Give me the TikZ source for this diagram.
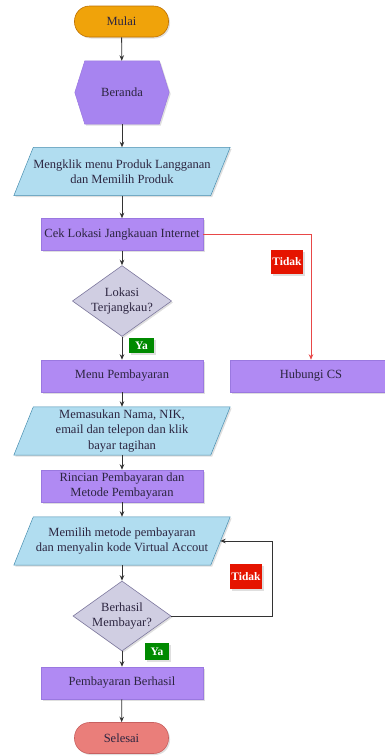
\documentclass[tikz,border=0pt]{standalone}
\usepackage{fontspec}
\setmainfont{Liberation Serif}
\usetikzlibrary{shapes.geometric,arrows.meta,shadows,backgrounds}
\definecolor{orF}{HTML}{F0A30A}
\definecolor{orD}{HTML}{BD7000}
\definecolor{puF}{HTML}{B08AF3}
\definecolor{puD}{HTML}{9A78E0}
\definecolor{hxF}{HTML}{A784F0}
\definecolor{blF}{HTML}{B1DDF0}
\definecolor{blD}{HTML}{4A8FB0}
\definecolor{diF}{HTML}{D0CEE2}
\definecolor{diD}{HTML}{7D789E}
\definecolor{reF}{HTML}{EA7E7A}
\definecolor{reD}{HTML}{C86060}
\definecolor{txt}{HTML}{2C2540}
\definecolor{lnc}{HTML}{333333}
\definecolor{tidakc}{HTML}{E51400}
\definecolor{yac}{HTML}{008A00}
\definecolor{redln}{HTML}{E84848}
\begin{document}
\begin{tikzpicture}[x=1pt,y=-1pt,
  shad/.style={drop shadow={opacity=0.25,shadow xshift=1.5pt,shadow yshift=-1.5pt}},
  base/.style={font=\fontsize{12.5}{15.5}\selectfont, text=txt, align=center, inner sep=0pt},
  term/.style={base, rectangle, rounded corners=15pt, minimum width=94pt, minimum height=31pt, shad, line width=0.6pt},
  procbox/.style={base, rectangle, fill=puF, draw=puD, line width=0.5pt, minimum width=162pt, minimum height=32pt, shad},
  iobox/.style={base, rectangle, minimum width=216pt, minimum height=48pt},
  iopath/.style={fill=blF, draw=blD, line width=0.5pt, shad},
  decbox/.style={base, diamond, aspect=1.4, fill=diF, draw=diD, line width=0.6pt, minimum width=98pt, minimum height=70pt, shad},
  arr/.style={draw=lnc, line width=0.8pt, -{Stealth[length=5.5pt,width=4.5pt]}},
  redarr/.style={draw=redln, line width=0.7pt, -{Stealth[length=5.5pt,width=4.5pt]}},
  lab/.style={font=\fontsize{11.5}{13}\selectfont\bfseries, text=white, inner sep=0pt, shad}
]
\useasboundingbox (0,0) rectangle (385,756);
\clip (0,0) rectangle (385,756);

\node[term, fill=orF, draw=orD] (start) at (121.5,21.5) {Mulai};
\node[base, minimum width=94pt, minimum height=63pt] (ber) at (122,92.5) {Beranda};
\node[iobox] (p1) at (122,171.5) {Mengklik menu Produk Langganan\\dan Memilih Produk};
\node[procbox] (cek) at (122,234.5) {Cek Lokasi Jangkauan Internet};
\node[decbox] (lok) at (122,301) {Lokasi\\Terjangkau?};
\node[procbox] (menu) at (122,376) {Menu Pembayaran};
\node[procbox] (hub) at (311,376) {Hubungi CS};
\node[iobox] (p2) at (122,431) {Memasukan Nama, NIK,\\email dan telepon dan klik\\bayar tagihan};
\node[procbox] (rinc) at (122,486) {Rincian Pembayaran dan\\Metode Pembayaran};
\node[iobox] (p3) at (122,541) {Memilih metode pembayaran\\dan menyalin kode Virtual Accout};
\node[decbox] (ber2) at (122,616) {Berhasil\\Membayar?};
\node[procbox] (suk) at (122,683) {Pembayaran Berhasil};
\node[term, fill=reF, draw=reD] (sel) at (121.5,738) {Selesai};

\begin{scope}[on background layer]
  \draw[fill=hxF, draw=puD, line width=0.5pt, shad]
    ([xshift=10pt]ber.north west) -- ([xshift=-10pt]ber.north east) -- (ber.east)
    -- ([xshift=-10pt]ber.south east) -- ([xshift=10pt]ber.south west) -- (ber.west) -- cycle;
  \foreach \p in {p1,p2,p3}{
    \draw[iopath] ([xshift=19.5pt]\p.north west) -- (\p.north east)
      -- ([xshift=-19.5pt]\p.south east) -- (\p.south west) -- cycle;
  }
\end{scope}

\draw[arr] (start) -- (ber);
\draw[arr] (ber) -- (p1);
\draw[arr] (p1) -- (cek);
\draw[arr] (cek) -- (lok);
\draw[arr] (lok) -- (menu);
\draw[arr] (menu) -- (p2);
\draw[arr] (p2) -- (rinc);
\draw[arr] (rinc) -- (p3);
\draw[arr] (p3) -- (ber2);
\draw[arr] (ber2) -- (suk);
\draw[arr] (suk) -- (sel);

\draw[redarr] (cek.east) -| (hub.north);

\coordinate (lp) at (272,541);
\coordinate (p3r) at ([xshift=-10pt]p3.east);
\draw[arr] (ber2.east) -| (lp) -- (p3r);

\node[lab, fill=tidakc, minimum width=32pt, minimum height=24pt] (t1) at (287,262) {Tidak};
\node[lab, fill=yac, minimum width=25pt, minimum height=15pt] (y1) at (141.5,345.5) {Ya};
\node[lab, fill=tidakc, minimum width=32pt, minimum height=25pt] (t2) at (246,576.5) {Tidak};
\node[lab, fill=yac, minimum width=24pt, minimum height=17pt] (y2) at (157,651.5) {Ya};
\end{tikzpicture}
\end{document}
